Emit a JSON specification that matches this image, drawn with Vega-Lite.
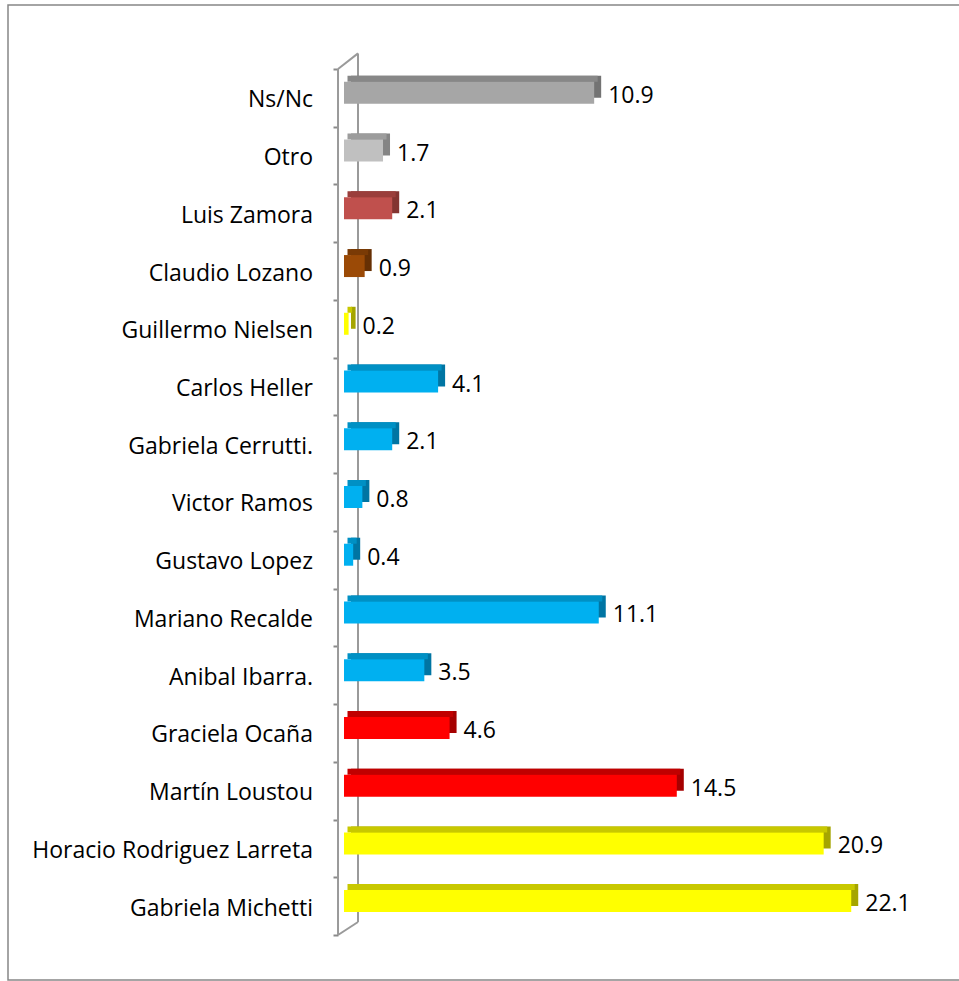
{
  "$schema": "https://vega.github.io/schema/vega-lite/v6.json",
  "width": 955,
  "height": 975,
  "autosize": {"type": "none"},
  "padding": {"left": 8, "top": 5, "right": 0, "bottom": 1},
  "background": "white",
  "config": {"view": {"stroke": "#868686", "strokeWidth": 1.5}, "font": "Open Sans"},
  "data": {
    "values": [
      {"candidato": "Ns/Nc", "valor": 10.9, "fuerza": "Ns/Nc"},
      {"candidato": "Otro ", "valor": 1.7, "fuerza": "Otro"},
      {"candidato": "Luis Zamora", "valor": 2.1, "fuerza": "AyL"},
      {"candidato": "Claudio Lozano", "valor": 0.9, "fuerza": "Camino Popular"},
      {"candidato": "Guillermo Nielsen", "valor": 0.2, "fuerza": "FR"},
      {"candidato": "Carlos Heller", "valor": 4.1, "fuerza": "FpV"},
      {"candidato": "Gabriela Cerrutti.", "valor": 2.1, "fuerza": "FpV"},
      {"candidato": "Victor Ramos", "valor": 0.8, "fuerza": "FpV"},
      {"candidato": "Gustavo Lopez", "valor": 0.4, "fuerza": "FpV"},
      {"candidato": "Mariano Recalde", "valor": 11.1, "fuerza": "FpV"},
      {"candidato": "Anibal Ibarra.", "valor": 3.5, "fuerza": "FpV"},
      {"candidato": "Graciela Ocaña", "valor": 4.6, "fuerza": "ECO"},
      {"candidato": "Martín Loustou", "valor": 14.5, "fuerza": "ECO"},
      {"candidato": "Horacio Rodriguez Larreta", "valor": 20.9, "fuerza": "PRO"},
      {"candidato": "Gabriela Michetti", "valor": 22.1, "fuerza": "PRO"}
    ]
  },
  "layer": [
    {
      "data": {"values": [{}]},
      "layer": [
        {
          "mark": {"type": "rule", "color": "#9A9A9A", "strokeWidth": 2},
          "encoding": {
            "x": {"datum": -0.261, "type": "quantitative", "scale": {"domain": [-14.64, 26.97], "nice": false, "zero": false}, "axis": null},
            "y": {"datum": 0, "type": "quantitative", "scale": {"domain": [-1.1085, 15.779], "reverse": true, "nice": false, "zero": false},
              "axis": {"orient": "left", "offset": -330, "values": [0,1,2,3,4,5,6,7,8,9,10,11,12,13,14,15], "labels": false, "domain": false, "grid": false, "ticks": true, "tickSize": 5, "tickColor": "#8A8A8A", "tickWidth": 2, "title": null}},
            "y2": {"datum": 15}
          }
        },
        {
          "mark": {"type": "rule", "color": "#9A9A9A", "strokeWidth": 2},
          "encoding": {
            "x": {"datum": 0.61, "type": "quantitative"},
            "y": {"datum": -0.27, "type": "quantitative"},
            "y2": {"datum": 14.775}
          }
        },
        {
          "mark": {"type": "rule", "color": "#9A9A9A", "strokeWidth": 2},
          "encoding": {
            "x": {"datum": -0.261, "type": "quantitative"},
            "x2": {"datum": 0.61},
            "y": {"datum": 0, "type": "quantitative"},
            "y2": {"datum": -0.27}
          }
        },
        {
          "mark": {"type": "rule", "color": "#9A9A9A", "strokeWidth": 2},
          "encoding": {
            "x": {"datum": -0.261, "type": "quantitative"},
            "x2": {"datum": 0.61},
            "y": {"datum": 15, "type": "quantitative"},
            "y2": {"datum": 14.775}
          }
        }
      ]
    },
    {
      "layer": [
        {
          "mark": {"type": "bar", "height": 22, "xOffset": 7, "x2Offset": 7, "yOffset": -11},
          "encoding": {
            "y": {"field": "candidato", "type": "nominal", "sort": null, "scale": {"paddingInner": 0, "paddingOuter": 0.944, "align": 0.587}, "axis": null},
            "x": {"field": "valor", "type": "quantitative", "scale": {"domain": [-14.64, 26.97], "nice": false, "zero": false}, "axis": null},
            "x2": {"datum": 0},
            "color": {"field": "fuerza", "type": "nominal", "legend": null,
              "scale": {"domain": ["PRO", "ECO", "FpV", "FR", "Camino Popular", "AyL", "Otro", "Ns/Nc"],
                "range": ["#A5A500", "#A50000", "#0075A3", "#A5A500", "#663004", "#833431", "#858585", "#737373"]}}
          }
        },
        {
          "mark": {"type": "bar", "height": 6, "xOffset": 3.5, "x2Offset": 3.5, "yOffset": -19},
          "encoding": {
            "y": {"field": "candidato", "type": "nominal", "sort": null, "axis": null},
            "x": {"field": "valor", "type": "quantitative"},
            "x2": {"datum": 0},
            "color": {"field": "fuerza", "type": "nominal", "legend": null,
              "scale": {"domain": ["PRO", "ECO", "FpV", "FR", "Camino Popular", "AyL", "Otro", "Ns/Nc"],
                "range": ["#C8C800", "#C00000", "#0090C4", "#C8C800", "#7A3A05", "#9A3E3B", "#9C9C9C", "#878787"]}}
          }
        },
        {
          "mark": {"type": "bar", "height": 22, "yOffset": -5},
          "encoding": {
            "y": {"field": "candidato", "type": "nominal", "sort": null, "axis": null},
            "x": {"field": "valor", "type": "quantitative"},
            "x2": {"datum": 0},
            "color": {"field": "fuerza", "type": "nominal", "legend": null,
              "scale": {"domain": ["PRO", "ECO", "FpV", "FR", "Camino Popular", "AyL", "Otro", "Ns/Nc"],
                "range": ["#FFFF00", "#FF0000", "#00B0F0", "#FFFF00", "#9B4A06", "#C0504D", "#C0C0C0", "#A6A6A6"]}}
          }
        },
        {
          "mark": {"type": "text", "align": "left", "dx": 14, "yOffset": -2, "fontSize": 23, "font": "Open Sans", "color": "black"},
          "encoding": {
            "y": {"field": "candidato", "type": "nominal", "sort": null, "axis": null},
            "x": {"field": "valor", "type": "quantitative"},
            "text": {"field": "valor", "type": "quantitative", "format": ".1f"}
          }
        },
        {
          "mark": {"type": "text", "align": "right", "yOffset": 2.5, "fontSize": 23, "font": "Open Sans", "color": "black"},
          "encoding": {
            "y": {"field": "candidato", "type": "nominal", "sort": null, "axis": null},
            "x": {"datum": -1.351, "type": "quantitative"},
            "text": {"field": "candidato", "type": "nominal"}
          }
        }
      ],
      "resolve": {"scale": {"color": "independent"}}
    }
  ],
  "resolve": {"scale": {"y": "independent"}}
}
